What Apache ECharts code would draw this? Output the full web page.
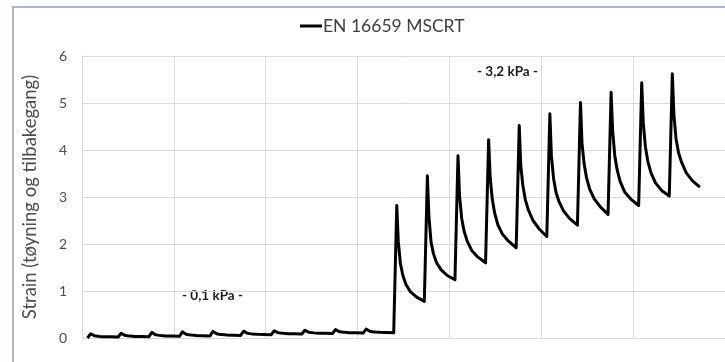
<!DOCTYPE html>
<html>
<head>
<meta charset="utf-8">
<script src="https://cdn.jsdelivr.net/npm/echarts@6/dist/echarts.min.js"></script>
<style>
  html, body { margin: 0; padding: 0; background: #fff; }
  #chart { width: 725px; height: 362px; }
</style>
</head>
<body>
<div id="chart"></div>
<script>
// time (s) at which each load cycle starts: 10 cycles at 0.1 kPa, then 10 at 3.2 kPa
const cycleStart = [1.8, 11.8, 21.8, 31.8, 41.8, 51.8, 61.8, 71.8, 81.8, 91.8,
  101.8, 111.8, 121.8, 131.8, 141.8, 151.8, 161.8, 171.8, 181.8, 191.8];
// seconds after cycle start where strain was read (1 = end of creep / peak, 10 = end of recovery)
const readOffsets = [1, 1.5, 2.2, 3, 4, 5.5, 7.5, 10];

// strain per cycle at readOffsets, 0.1 kPa
const strainLow = [
  [0.09, 0.064, 0.049, 0.041, 0.034, 0.028, 0.024, 0.020],
  [0.10, 0.072, 0.057, 0.048, 0.040, 0.034, 0.030, 0.025],
  [0.12, 0.089, 0.071, 0.061, 0.052, 0.045, 0.040, 0.035],
  [0.13, 0.099, 0.081, 0.071, 0.062, 0.055, 0.050, 0.045],
  [0.14, 0.109, 0.091, 0.081, 0.072, 0.065, 0.060, 0.055],
  [0.145, 0.117, 0.102, 0.093, 0.085, 0.079, 0.075, 0.070],
  [0.155, 0.129, 0.114, 0.106, 0.099, 0.093, 0.089, 0.085],
  [0.165, 0.139, 0.124, 0.116, 0.109, 0.103, 0.099, 0.095],
  [0.18, 0.152, 0.137, 0.128, 0.120, 0.114, 0.110, 0.105],
  [0.19, 0.160, 0.144, 0.134, 0.126, 0.120, 0.115, 0.110]
];
// strain per cycle at readOffsets, 3.2 kPa
const strainHigh = [
  [2.82, 2.05, 1.58, 1.33, 1.14, 0.98, 0.87, 0.78],
  [3.45, 2.58, 2.04, 1.79, 1.60, 1.45, 1.33, 1.24],
  [3.88, 3.03, 2.55, 2.27, 2.06, 1.86, 1.72, 1.60],
  [4.22, 3.42, 2.95, 2.65, 2.41, 2.21, 2.06, 1.92],
  [4.52, 3.66, 3.24, 2.94, 2.72, 2.50, 2.32, 2.16],
  [4.77, 3.88, 3.40, 3.10, 2.90, 2.70, 2.54, 2.40],
  [5.01, 4.14, 3.70, 3.40, 3.17, 2.96, 2.79, 2.63],
  [5.23, 4.42, 3.88, 3.57, 3.32, 3.10, 2.95, 2.82],
  [5.43, 4.59, 4.07, 3.76, 3.52, 3.30, 3.14, 3.02],
  [5.62, 4.76, 4.24, 3.95, 3.74, 3.52, 3.35, 3.21]
];
const startStrain = 0;

const seriesName = 'EN 16659 MSCRT';
const yTicks = [0, 1, 2, 3, 4, 5, 6];
const labelLow = '- 0,1 kPa -';
const labelHigh = '- 3,2 kPa -';

// build the (time, strain) points
const cycles = strainLow.concat(strainHigh);
const points = [[cycleStart[0], startStrain]];
cycles.forEach((vals, i) => {
  vals.forEach((v, k) => {
    points.push([cycleStart[i] + readOffsets[k], v]);
  });
});

const chart = echarts.init(document.getElementById('chart'));
const font = 'Lato, "Open Sans", sans-serif';

const option = {
  animation: false,
  backgroundColor: '#fff',
  legend: {
    top: 12,
    left: 295,
    data: [seriesName],
    icon: 'rect',
    itemWidth: 22,
    itemHeight: 3,
    textStyle: { fontFamily: font, fontSize: 17.5, color: '#404040', padding: [0, 0, 0, -4] }
  },
  grid: { left: 82, top: 56, width: 650, height: 282 },
  xAxis: {
    type: 'value',
    min: 0,
    max: 210,
    interval: 30,
    axisLine: { show: true, lineStyle: { color: '#d9d9d9' } },
    axisTick: { show: false },
    axisLabel: { show: false },
    splitLine: { show: true, lineStyle: { color: '#d9d9d9', width: 1 } }
  },
  yAxis: {
    type: 'value',
    min: yTicks[0],
    max: yTicks[yTicks.length - 1],
    interval: 1,
    name: 'Strain (tøyning og tilbakegang)',
    nameLocation: 'middle',
    nameGap: 42,
    nameTextStyle: { fontFamily: font, fontSize: 18.5, color: '#4d4d4d' },
    axisLine: { show: true, lineStyle: { color: '#d9d9d9' } },
    axisTick: { show: false },
    axisLabel: { fontFamily: font, fontSize: 14, color: '#4d4d4d', margin: 15 },
    splitLine: { show: true, lineStyle: { color: '#d9d9d9', width: 1 } }
  },
  series: [{
    name: seriesName,
    type: 'line',
    data: points,
    symbol: 'none',
    lineStyle: { color: '#000', width: 3, join: 'round' },
    itemStyle: { color: '#000' }
  }],
  graphic: [
    {
      type: 'rect',
      silent: true,
      shape: { x: 13, y: 7, width: 800, height: 420 },
      style: { fill: 'none', stroke: '#a9b9c8', lineWidth: 2 }
    },
    {
      type: 'text',
      left: 182, top: 289,
      style: { text: labelLow, font: 'bold 13.5px ' + font, fill: '#1a1a1a' }
    },
    {
      type: 'text',
      left: 477, top: 65,
      style: { text: labelHigh, font: 'bold 13.5px ' + font, fill: '#1a1a1a' }
    }
  ]
};

chart.setOption(option);
</script>
</body>
</html>
